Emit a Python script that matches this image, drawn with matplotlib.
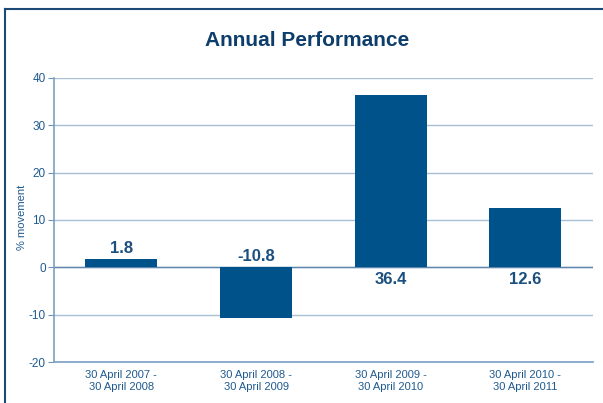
import numpy as np
import matplotlib.pyplot as plt

plt.rcParams['font.family'] = ['Liberation Sans', 'DejaVu Sans']
plt.rcParams['axes.unicode_minus'] = False

# data
periods = ['30 April 2007 -\n30 April 2008', '30 April 2008 -\n30 April 2009',
           '30 April 2009 -\n30 April 2010', '30 April 2010 -\n30 April 2011']
movement = [1.8, -10.8, 36.4, 12.6]
yticks = [-20, -10, 0, 10, 20, 30, 40]

bar_col = '#00538a'
txt_col = '#1f5a8f'
grid_col = '#a8bfd6'

fig = plt.figure(figsize=(6.03, 4.03), dpi=100)
ax = fig.add_axes([0.0896, 0.1017, 0.8935, 0.7048])

x = np.arange(len(periods))
ax.bar(x, movement, width=0.535, color=bar_col, zorder=3)

# value labels
for xi, v in zip(x, movement):
    if v > 10:
        ax.text(xi, -1.0, f'{v:.1f}', ha='center', va='top', fontsize=12,
                fontweight='bold', color='#1a4f80')
    else:
        ax.text(xi, max(v, 0) + 0.7, f'{v:.1f}', ha='center', va='bottom',
                fontsize=12, fontweight='bold', color='#1a4f80')

ax.set_xlim(-0.5, 3.5)
ax.set_ylim(-20, 40)
ax.set_yticks(yticks)
ax.set_xticks(x)
ax.set_xticklabels(periods, fontsize=8, color=txt_col)
for lbl in ax.get_yticklabels():
    lbl.set_fontsize(8.5)
    lbl.set_color(txt_col)
ax.tick_params(axis='x', length=0, pad=6)
ax.tick_params(axis='y', length=4, color='#6f93b8', pad=2)
ax.grid(axis='y', color=grid_col, linewidth=1, zorder=0)
for s in ['top', 'right']:
    ax.spines[s].set_visible(False)
for s in ['left', 'bottom']:
    ax.spines[s].set_color('#7c9ec0')
    ax.spines[s].set_linewidth(1.2)
ax.axhline(0, color='#5f85ad', linewidth=1, zorder=2)

ax.set_ylabel('% movement', fontsize=8, color=txt_col)
ax.yaxis.set_label_coords(-0.05, 0.51)

fig.text(0.51, 0.9, 'Annual Performance', ha='center', va='center', fontsize=15,
         fontweight='bold', color='#0d3d6b')

# frame (left and top edges)
fig.add_artist(plt.Line2D([0.0091, 0.0091], [0.0, 0.977], color='#1b4a78', linewidth=1.5))
fig.add_artist(plt.Line2D([0.0091, 1.0], [0.977, 0.977], color='#1b4a78', linewidth=1.5))

plt.savefig('out.png', dpi=100)
